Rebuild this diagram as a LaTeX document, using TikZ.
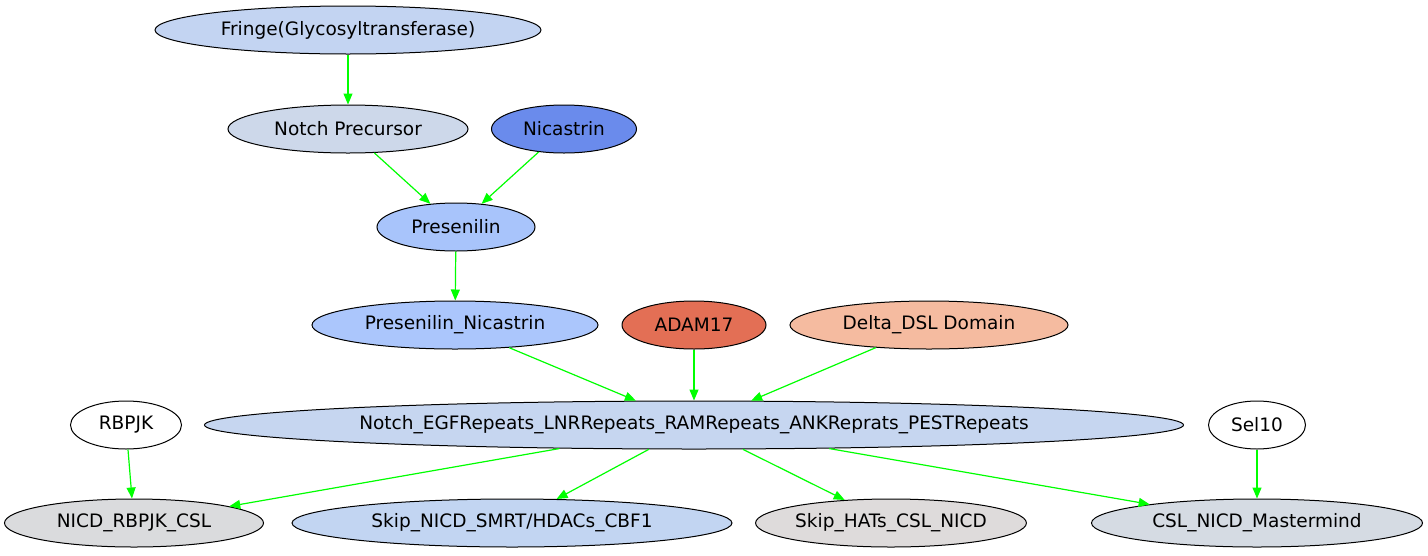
\documentclass[tikz,border=0pt]{standalone}
\usepackage{fontspec}
\setmainfont{DejaVu Sans}
\usetikzlibrary{shapes.geometric,arrows.meta}
\definecolor{cFringe}{HTML}{C3D4F2}
\definecolor{cPrec}{HTML}{CDD8EA}
\definecolor{cNica}{HTML}{6A8BEC}
\definecolor{cPres}{HTML}{A8C4FB}
\definecolor{cPresNic}{HTML}{ABC6FC}
\definecolor{cAdam}{HTML}{E36F55}
\definecolor{cDelta}{HTML}{F5BBA0}
\definecolor{cNotch}{HTML}{C6D6F0}
\definecolor{cNicd}{HTML}{DADBDD}
\definecolor{cSkipN}{HTML}{C2D5F2}
\definecolor{cSkipH}{HTML}{DEDBDB}
\definecolor{cCsl}{HTML}{D5DBE3}
\definecolor{edgegreen}{HTML}{00FF00}
\begin{document}
\begin{tikzpicture}[x=1pt,y=-1pt,
  nd/.style={ellipse,draw=black,line width=1pt,inner sep=0pt,
    font=\fontsize{18.5}{21}\selectfont,minimum height=48pt},
  edge/.style={draw=edgegreen,line width=1.2pt,-{Triangle[length=11pt,width=9pt]}}]
\useasboundingbox (0,0) rectangle (1428,555);
\node[nd,fill=cFringe,minimum width=386pt] (fringe) at (348,30) {Fringe(Glycosyltransferase)};
\node[nd,fill=cPrec,minimum width=240pt] (prec) at (348,129) {Notch Precursor};
\node[nd,fill=cNica,minimum width=145pt] (nica) at (564,129) {Nicastrin};
\node[nd,fill=cPres,minimum width=158pt] (pres) at (456,227) {Presenilin};
\node[nd,fill=cPresNic,minimum width=286pt] (presnic) at (455,325) {Presenilin\_Nicastrin};
\node[nd,fill=cAdam,minimum width=144pt] (adam) at (694,325) {ADAM17};
\node[nd,fill=cDelta,minimum width=278pt] (delta) at (929,325) {Delta\_DSL Domain};
\node[nd,fill=white,minimum width=111pt] (rbpjk) at (126,425) {RBPJK};
\node[nd,fill=cNotch,minimum width=979pt] (notch) at (694,425) {Notch\_EGFRepeats\_LNRRepeats\_RAMRepeats\_ANKReprats\_PESTRepeats};
\node[nd,fill=white,minimum width=97pt] (sel) at (1257,425) {Sel10};
\node[nd,fill=cNicd,minimum width=259pt] (nicd) at (134,523) {NICD\_RBPJK\_CSL};
\node[nd,fill=cSkipN,minimum width=440pt] (skipn) at (512,523) {Skip\_NICD\_SMRT/HDACs\_CBF1};
\node[nd,fill=cSkipH,minimum width=270pt] (skiph) at (891,523) {Skip\_HATs\_CSL\_NICD};
\node[nd,fill=cCsl,minimum width=331pt] (csl) at (1257,523) {CSL\_NICD\_Mastermind};
\draw[edge] (fringe) -- (prec);
\draw[edge] (prec) -- (pres);
\draw[edge] (nica) -- (pres);
\draw[edge] (pres) -- (presnic);
\draw[edge] (presnic) -- (notch);
\draw[edge] (adam) -- (notch);
\draw[edge] (delta) -- (notch);
\draw[edge] (rbpjk) -- (nicd);
\draw[edge] (notch) -- (nicd);
\draw[edge] (notch) -- (skipn);
\draw[edge] (notch) -- (skiph);
\draw[edge] (notch) -- (csl);
\draw[edge] (sel.south) -- (csl);
\end{tikzpicture}
\end{document}
